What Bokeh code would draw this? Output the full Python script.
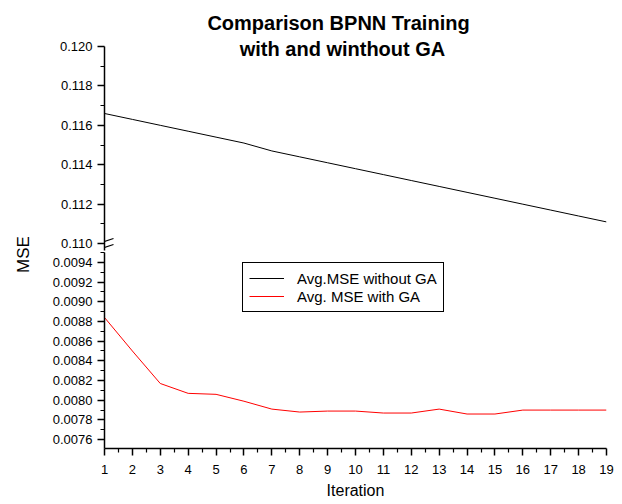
import math
from bokeh.plotting import figure
from bokeh.models import (Range1d, FixedTicker, PrintfTickFormatter, Label,
                          Legend, LegendItem, Arrow)
from bokeh.layouts import row, column
from bokeh.embed import file_html
from bokeh.resources import INLINE

# ---------------- data ----------------
iterations = list(range(1, 20))
mse_without_ga = [0.1166, 0.1163, 0.1160, 0.1157, 0.1154, 0.1151, 0.1147,
                  0.1144, 0.1141, 0.1138, 0.1135, 0.1132, 0.1129, 0.1126,
                  0.1123, 0.1120, 0.1117, 0.1114, 0.1111]
mse_with_ga = [0.00884, 0.00850, 0.00817, 0.00807, 0.00806, 0.00799, 0.00791,
               0.00788, 0.00789, 0.00789, 0.00787, 0.00787, 0.00791, 0.00786,
               0.00786, 0.00790, 0.00790, 0.00790, 0.00790]

x_major_ticks = list(range(1, 20))
x_minor_ticks = [1.5, 2.5, 3.5, 4.5, 5.5, 6.5, 7.5, 8.5, 9.5, 10.5, 11.5,
                 12.5, 13.5, 14.5, 15.5, 16.5, 17.5, 18.5]
top_major_ticks = [0.110, 0.112, 0.114, 0.116, 0.118, 0.120]
top_minor_ticks = [0.111, 0.113, 0.115, 0.117, 0.119]
bottom_major_ticks = [0.0076, 0.0078, 0.0080, 0.0082, 0.0084, 0.0086,
                      0.0088, 0.0090, 0.0092, 0.0094]
bottom_minor_ticks = [0.0077, 0.0079, 0.0081, 0.0083, 0.0085, 0.0087,
                      0.0089, 0.0091, 0.0093, 0.0095]

title_lines = ["Comparison BPNN Training", "with and winthout GA"]
x_label = "Iteration"
y_label = "MSE"
legend_labels = ["Avg.MSE without GA", "Avg. MSE with GA"]

# axis extents of the two panels of the broken axis
top_axis_bounds = (0.10965, 0.120)
top_view = (0.10965, 0.12223)      # frame also holds the title area
bottom_view = (0.00751, 0.00950)

FONT = "Liberation Sans"

x_range = Range1d(1, 19)


def style_axis(ax, fmt, ticker):
    ax.ticker = ticker
    ax.formatter = PrintfTickFormatter(format=fmt)
    ax.axis_line_color = "black"
    ax.axis_line_width = 1.5
    ax.major_tick_line_color = "black"
    ax.minor_tick_line_color = "black"
    ax.major_tick_line_width = 1.5
    ax.minor_tick_line_width = 1.2
    ax.major_tick_in = 0
    ax.major_tick_out = 7
    ax.minor_tick_in = 0
    ax.minor_tick_out = 4
    ax.major_label_text_font = FONT
    ax.major_label_text_font_size = "13px"
    ax.major_label_text_color = "black"
    ax.major_label_standoff = 5


# ---------------- upper panel ----------------
p1 = figure(width=574, height=251, x_range=x_range,
            y_range=Range1d(*top_view),
            x_axis_location=None, toolbar_location=None, output_backend="svg",
            min_border_left=56, min_border_right=16, min_border_top=2,
            min_border_bottom=1, outline_line_color=None)
p1.grid.visible = False
style_axis(p1.yaxis[0], "%.3f", FixedTicker(ticks=top_major_ticks,
                                            minor_ticks=top_minor_ticks))
p1.yaxis[0].bounds = top_axis_bounds
p1.line(iterations, mse_without_ga, line_color="black", line_width=1)

p1.add_layout(Label(x=234, y=228, x_units="screen", y_units="screen",
                    text=title_lines[0], text_align="center",
                    text_baseline="alphabetic", text_font=FONT,
                    text_color="black",
                    text_font_size="20px", text_font_style="bold"))
p1.add_layout(Label(x=238, y=202, x_units="screen", y_units="screen",
                    text=title_lines[1], text_align="center",
                    text_baseline="alphabetic", text_font=FONT,
                    text_color="black",
                    text_font_size="20px", text_font_style="bold"))
# break marks
p1.add_layout(Arrow(end=None, x_start=-6, y_start=7, x_end=9, y_end=12,
                    start_units="screen", end_units="screen",
                    line_width=1.3, line_color="black"))
p1.add_layout(Arrow(end=None, x_start=-6, y_start=1, x_end=9, y_end=6,
                    start_units="screen", end_units="screen",
                    line_width=1.3, line_color="black"))

# ---------------- lower panel ----------------
p2 = figure(width=574, height=253, x_range=x_range,
            y_range=Range1d(*bottom_view),
            toolbar_location=None, output_backend="svg",
            min_border_left=56, min_border_right=16, min_border_top=1,
            min_border_bottom=56, outline_line_color=None)
p2.grid.visible = False
style_axis(p2.yaxis[0], "%.4f", FixedTicker(ticks=bottom_major_ticks,
                                            minor_ticks=bottom_minor_ticks))
style_axis(p2.xaxis[0], "%d", FixedTicker(ticks=x_major_ticks,
                                          minor_ticks=x_minor_ticks))
p2.xaxis[0].major_label_standoff = 9
p2.xaxis[0].axis_label = x_label
p2.xaxis[0].axis_label_text_font = FONT
p2.xaxis[0].axis_label_text_font_size = "16px"
p2.xaxis[0].axis_label_text_font_style = "normal"
p2.xaxis[0].axis_label_text_color = "black"
p2.xaxis[0].axis_label_standoff = 5

# same series, outside this panel's range (clipped) - used for the legend entry
r_black = p2.line(iterations, mse_without_ga, line_color="black", line_width=1)
r_red = p2.line(iterations, mse_with_ga, line_color="#ff0000", line_width=1)

legend = Legend(items=[LegendItem(label=legend_labels[0], renderers=[r_black]),
                       LegendItem(label=legend_labels[1], renderers=[r_red])],
                location=(138, 136), border_line_color="black",
                border_line_width=1, border_line_alpha=1,
                padding=6, spacing=0, margin=0,
                glyph_width=35, glyph_height=18, label_height=18,
                label_standoff=13, label_text_font=FONT,
                label_text_color="black",
                label_text_font_size="15px", background_fill_alpha=1)
p2.add_layout(legend)

# ---------------- y label strip ----------------
pl = figure(width=48, height=504, x_axis_location=None, y_axis_location=None,
            toolbar_location=None, output_backend="svg", min_border=0,
            outline_line_color=None)
pl.grid.visible = False
pl.add_layout(Label(x=23, y=250, x_units="screen", y_units="screen",
                    text=y_label, angle=math.pi / 2, text_align="center",
                    text_baseline="middle", text_font=FONT,
                    text_color="black", text_font_size="17px"))

layout = row(pl, column(p1, p2))
open("out.html", "w").write(file_html(layout, INLINE))
